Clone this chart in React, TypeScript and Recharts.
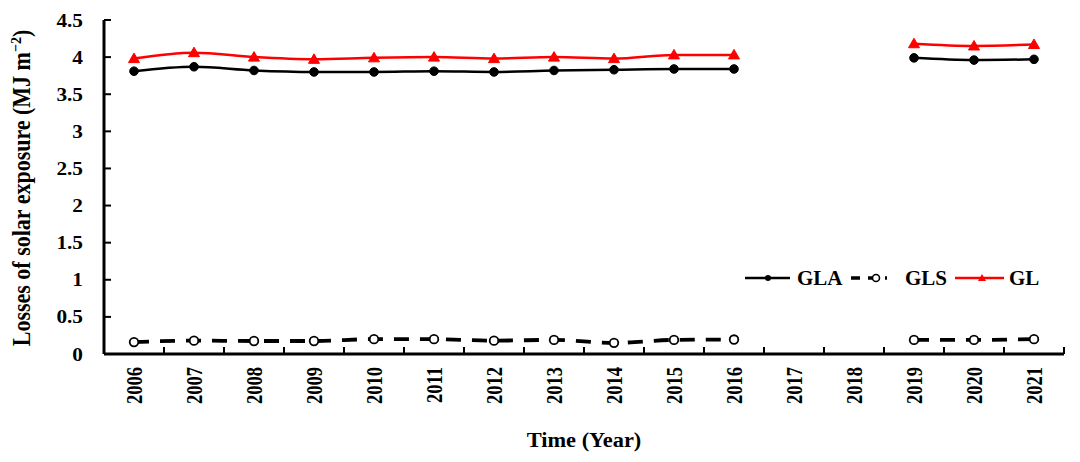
import React from 'react';
import { LineChart, Line, XAxis, YAxis, Legend } from 'recharts';

const years = ['2006', '2007', '2008', '2009', '2010', '2011', '2012', '2013', '2014', '2015', '2016', '2017', '2018', '2019', '2020', '2021'];
const glaValues = [3.81, 3.87, 3.82, 3.8, 3.8, 3.81, 3.8, 3.82, 3.83, 3.84, 3.84, null, null, 3.99, 3.96, 3.97];
const glsValues = [0.16, 0.18, 0.175, 0.175, 0.2, 0.2, 0.18, 0.19, 0.15, 0.19, 0.195, null, null, 0.19, 0.19, 0.2];
const glValues = [3.98, 4.06, 4.0, 3.97, 3.99, 4.0, 3.98, 4.0, 3.98, 4.03, 4.03, null, null, 4.18, 4.15, 4.17];
const yTicks = [0, 0.5, 1, 1.5, 2, 2.5, 3, 3.5, 4, 4.5];
const yTickLabels = ['0', '0.5', '1', '1.5', '2', '2.5', '3', '3.5', '4', '4.5'];

const data = years.map((year, i) => ({ year, GLA: glaValues[i], GLS: glsValues[i], GL: glValues[i] }));

const FONT = '"Liberation Serif", "Times New Roman", serif';
const W = 1080;
const H = 462;
const MARGIN = { top: 20, right: 16, left: 0, bottom: 0 };
const Y_AXIS_W = 104;
const X_AXIS_H = 108;
const PLOT_W = W - MARGIN.left - MARGIN.right - Y_AXIS_W;
const HALF_STEP = PLOT_W / years.length / 2;
const X_TICK_MARGIN = 13;

const XTick = (props: any) => {
  const { x, y, payload } = props;
  const axisY = y - X_TICK_MARGIN;
  return (
    <g>
      <line x1={x + HALF_STEP} x2={x + HALF_STEP} y1={axisY} y2={axisY - 7} stroke="#000" strokeWidth={2} />
      <text
        x={0}
        y={0}
        transform={`translate(${x}, ${y}) scale(1.2, 1) rotate(-90)`}
        textAnchor="end"
        dominantBaseline="central"
        fontFamily={FONT}
        fontWeight="bold"
        fontSize={18.5}
        fill="#000"
      >
        {payload.value}
      </text>
    </g>
  );
};

const YTick = (props: any) => {
  const { x, y, payload } = props;
  const idx = yTicks.indexOf(payload.value);
  return (
    <text
      x={0}
      y={0}
      transform={`translate(${x}, ${y}) scale(1.12, 1)`}
      textAnchor="end"
      dominantBaseline="central"
      fontFamily={FONT}
      fontWeight="bold"
      fontSize={19}
      fill="#000"
    >
      {idx >= 0 ? yTickLabels[idx] : payload.value}
    </text>
  );
};

const YTitle = (props: any) => {
  const vb = props.viewBox || { x: 0, y: 20, width: 104, height: 334 };
  const cx = vb.x + 30;
  const cy = vb.y + vb.height / 2 + 1;
  return (
    <text
      x={0}
      y={0}
      transform={`translate(${cx}, ${cy}) scale(1.1, 1) rotate(-90)`}
      textAnchor="middle"
      fontFamily={FONT}
      fontWeight="bold"
      fontSize={22}
      fill="#000"
    >
      Losses of solar exposure (MJ m
      <tspan fontSize={14} dy={-8}>−2</tspan>
      <tspan dy={8}>)</tspan>
    </text>
  );
};

const XTitle = (props: any) => {
  const vb = props.viewBox || { x: 104, y: 354, width: 960, height: 108 };
  const cx = vb.x + vb.width / 2;
  const cy = vb.y + 93;
  return (
    <text
      x={0}
      y={0}
      transform={`translate(${cx}, ${cy}) scale(1.12, 1)`}
      textAnchor="middle"
      fontFamily={FONT}
      fontWeight="bold"
      fontSize={20}
      fill="#000"
    >
      Time (Year)
    </text>
  );
};

const Triangle = (props: any) => {
  const { cx, cy, value } = props;
  if (value == null || cx == null || cy == null) return null;
  return <polygon points={`${cx - 5.5},${cy + 4} ${cx + 5.5},${cy + 4} ${cx},${cy - 5.5}`} fill="#ff0000" stroke="#ff0000" strokeWidth={1} />;
};

const FilledDot = (props: any) => {
  const { cx, cy, value } = props;
  if (value == null || cx == null || cy == null) return null;
  return <circle cx={cx} cy={cy} r={4.3} fill="#000" stroke="#000" strokeWidth={1} />;
};

const OpenDot = (props: any) => {
  const { cx, cy, value } = props;
  if (value == null || cx == null || cy == null) return null;
  return <circle cx={cx} cy={cy} r={4.3} fill="#fff" stroke="#000" strokeWidth={1.8} />;
};

const LegendContent = () => {
  const textProps = { fontFamily: FONT, fontWeight: 'bold' as const, fontSize: 21, fill: '#000' };
  return (
    <svg width={310} height={32} style={{ display: 'block' }}>
      <line x1={5} x2={50} y1={15} y2={15} stroke="#000" strokeWidth={2.5} />
      <circle cx={28} cy={15} r={3} fill="#000" />
      <text x={57} y={22} {...textProps}>GLA</text>
      <line x1={111} x2={147} y1={15} y2={15} stroke="#000" strokeWidth={3.5} strokeDasharray="9 8" />
      <circle cx={136} cy={15} r={3.5} fill="#fff" stroke="#000" strokeWidth={1.6} />
      <text x={165} y={22} {...textProps}>GLS</text>
      <line x1={215} x2={264} y1={15} y2={15} stroke="#ff0000" strokeWidth={2.5} />
      <polygon points={`238,18 246,18 242,11`} fill="#ff0000" />
      <text x={269} y={22} {...textProps}>GL</text>
    </svg>
  );
};

export default function App() {
  return (
    <div style={{ position: 'absolute', left: 0, top: 0, width: W, height: H, background: '#fff' }}>
      <LineChart width={W} height={H} data={data} margin={MARGIN}>
        <XAxis
          xAxisId="x"
          dataKey="year"
          height={X_AXIS_H}
          padding={{ left: HALF_STEP, right: HALF_STEP }}
          axisLine={{ stroke: '#000', strokeWidth: 3 }}
          tickLine={false}
          tickSize={0}
          tickMargin={X_TICK_MARGIN}
          interval={0}
          tick={<XTick />}
          label={<XTitle />}
        />
        <XAxis xAxisId="top" dataKey="year" orientation="top" height={0} tick={false} tickLine={false} axisLine={{ stroke: '#000', strokeWidth: 2 }} />
        <YAxis
          yAxisId="y"
          width={Y_AXIS_W}
          domain={[0, 4.5]}
          ticks={yTicks}
          interval={0}
          allowDataOverflow
          axisLine={{ stroke: '#000', strokeWidth: 3 }}
          tickLine={{ stroke: '#000', strokeWidth: 2 }}
          tickSize={-7}
          tickMargin={28}
          tick={<YTick />}
          label={<YTitle />}
        />
        <YAxis yAxisId="right" orientation="right" width={0} domain={[0, 4.5]} tick={false} tickLine={false} axisLine={{ stroke: '#000', strokeWidth: 2 }} />
        <Legend
          layout="horizontal"
          verticalAlign="middle"
          align="center"
          content={<LegendContent />}
          wrapperStyle={{ position: 'absolute', left: 740, top: 263, width: 310, height: 32 }}
        />
        <Line xAxisId="x" yAxisId="y" type="monotone" dataKey="GLA" name="GLA" stroke="#000" strokeWidth={2.5} dot={<FilledDot />} isAnimationActive={false} connectNulls={false} />
        <Line xAxisId="x" yAxisId="y" type="monotone" dataKey="GLS" name="GLS" stroke="#000" strokeWidth={3.8} strokeDasharray="15 11" dot={<OpenDot />} isAnimationActive={false} connectNulls={false} />
        <Line xAxisId="x" yAxisId="y" type="monotone" dataKey="GL" name="GL" stroke="#ff0000" strokeWidth={2.5} dot={<Triangle />} isAnimationActive={false} connectNulls={false} />
      </LineChart>
    </div>
  );
}
